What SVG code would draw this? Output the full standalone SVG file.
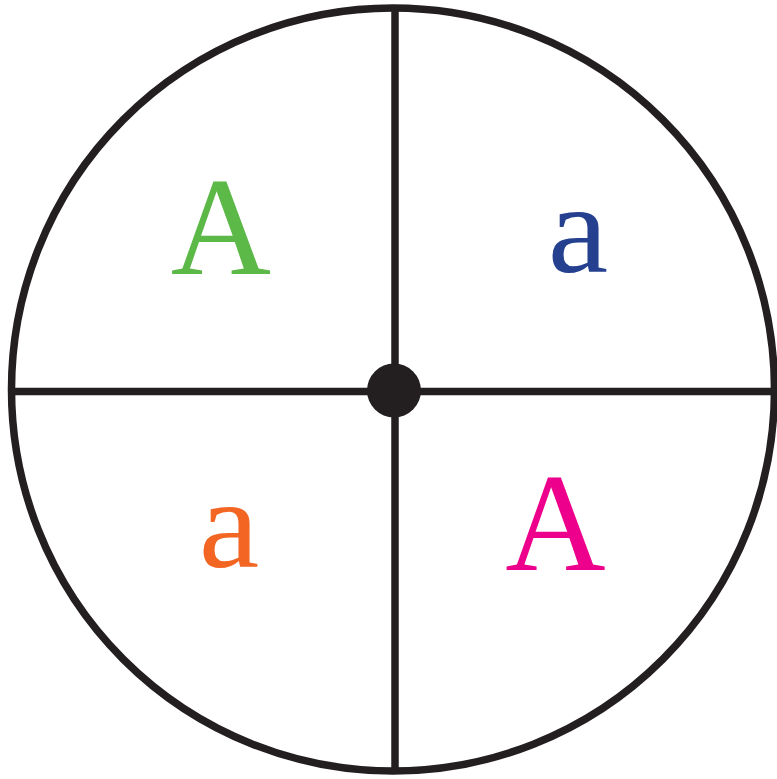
<svg xmlns="http://www.w3.org/2000/svg" width="777" height="779" viewBox="0 0 777 779">
<style>
.ln{stroke:#231f20;stroke-width:7.5;fill:none}
.t{font-family:"Liberation Serif","Times New Roman",serif;text-anchor:middle}
</style>
<rect width="777" height="779" fill="#ffffff"/>
<g id="connectors">
<circle class="ln" cx="393" cy="389.5" r="381.5"/>
<line class="ln" x1="395" y1="7" x2="395" y2="772"/>
<line class="ln" x1="11" y1="391.5" x2="775" y2="391.5"/>
</g>
<g id="center"><circle cx="394" cy="390.5" r="27" fill="#231f20"/></g>
<g id="q1"><text class="t" x="221" y="274" font-size="139" fill="#5cb947">A</text></g>
<g id="q2"><text class="t" x="578" y="272" font-size="126" fill="#25408f" transform="translate(578 272) scale(1.08 1) translate(-578 -272)">a</text></g>
<g id="q3"><text class="t" x="229" y="567.5" font-size="126" fill="#f26522" transform="translate(229 567.5) scale(1.08 1) translate(-229 -567.5)">a</text></g>
<g id="q4"><text class="t" x="555.5" y="569.5" font-size="139" fill="#ec008c">A</text></g>
</svg>
